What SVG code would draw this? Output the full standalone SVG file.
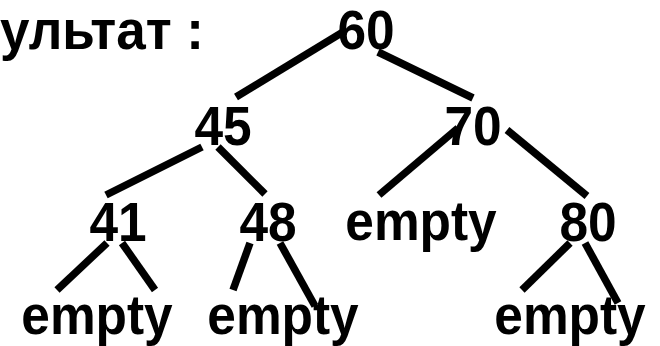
<svg xmlns="http://www.w3.org/2000/svg" width="660" height="346" viewBox="0 0 660 346">
  <style>
    text { font-family: "Liberation Sans", Arial, sans-serif; font-weight: bold; font-size: 53px; fill: #000; }
    .node text { text-anchor: middle; }
    .edge { stroke: #000; stroke-width: 7.5; stroke-linecap: butt; fill: none; }
  </style>
  <rect width="660" height="346" fill="#fff"/>

  <!-- title -->
  <text transform="translate(204 49) scale(1 1.05)" text-anchor="end">ультат :</text>

  <!-- connectors -->
  <g id="edges" class="edge">
    <line x1="236" y1="97" x2="343" y2="32"/>
    <line x1="378" y1="52" x2="473" y2="98"/>
    <line x1="202" y1="147" x2="106" y2="195"/>
    <line x1="218" y1="147" x2="265" y2="194"/>
    <line x1="458" y1="128" x2="379" y2="195"/>
    <line x1="507" y1="130" x2="587" y2="196"/>
    <line x1="107" y1="243" x2="57" y2="290"/>
    <line x1="122" y1="243" x2="155" y2="290"/>
    <line x1="250" y1="243" x2="233" y2="290"/>
    <line x1="280" y1="243" x2="315" y2="306"/>
    <line x1="570" y1="243" x2="522" y2="290"/>
    <line x1="585" y1="243" x2="618" y2="303"/>
  </g>

  <!-- nodes (glyphs slightly narrowed and heightened) -->
  <g id="n60" class="node"><text transform="translate(366 49) scale(0.97 1.05)">60</text></g>
  <g id="n45" class="node"><text transform="translate(223 145) scale(0.97 1.05)">45</text></g>
  <g id="n70" class="node"><text transform="translate(473 145) scale(0.97 1.05)">70</text></g>
  <g id="n41" class="node"><text transform="translate(118 241) scale(0.97 1.05)">41</text></g>
  <g id="n48" class="node"><text transform="translate(268 241) scale(0.97 1.05)">48</text></g>
  <g id="n70L" class="node"><text transform="translate(421 240) scale(0.97 1.05)">empty</text></g>
  <g id="n80" class="node"><text transform="translate(588 241) scale(0.97 1.05)">80</text></g>
  <g id="n41L" class="node"><text transform="translate(97 334) scale(0.97 1.05)">empty</text></g>
  <g id="n48R" class="node"><text transform="translate(283 334) scale(0.97 1.05)">empty</text></g>
  <g id="n80R" class="node"><text transform="translate(570 334) scale(0.97 1.05)">empty</text></g>
</svg>
